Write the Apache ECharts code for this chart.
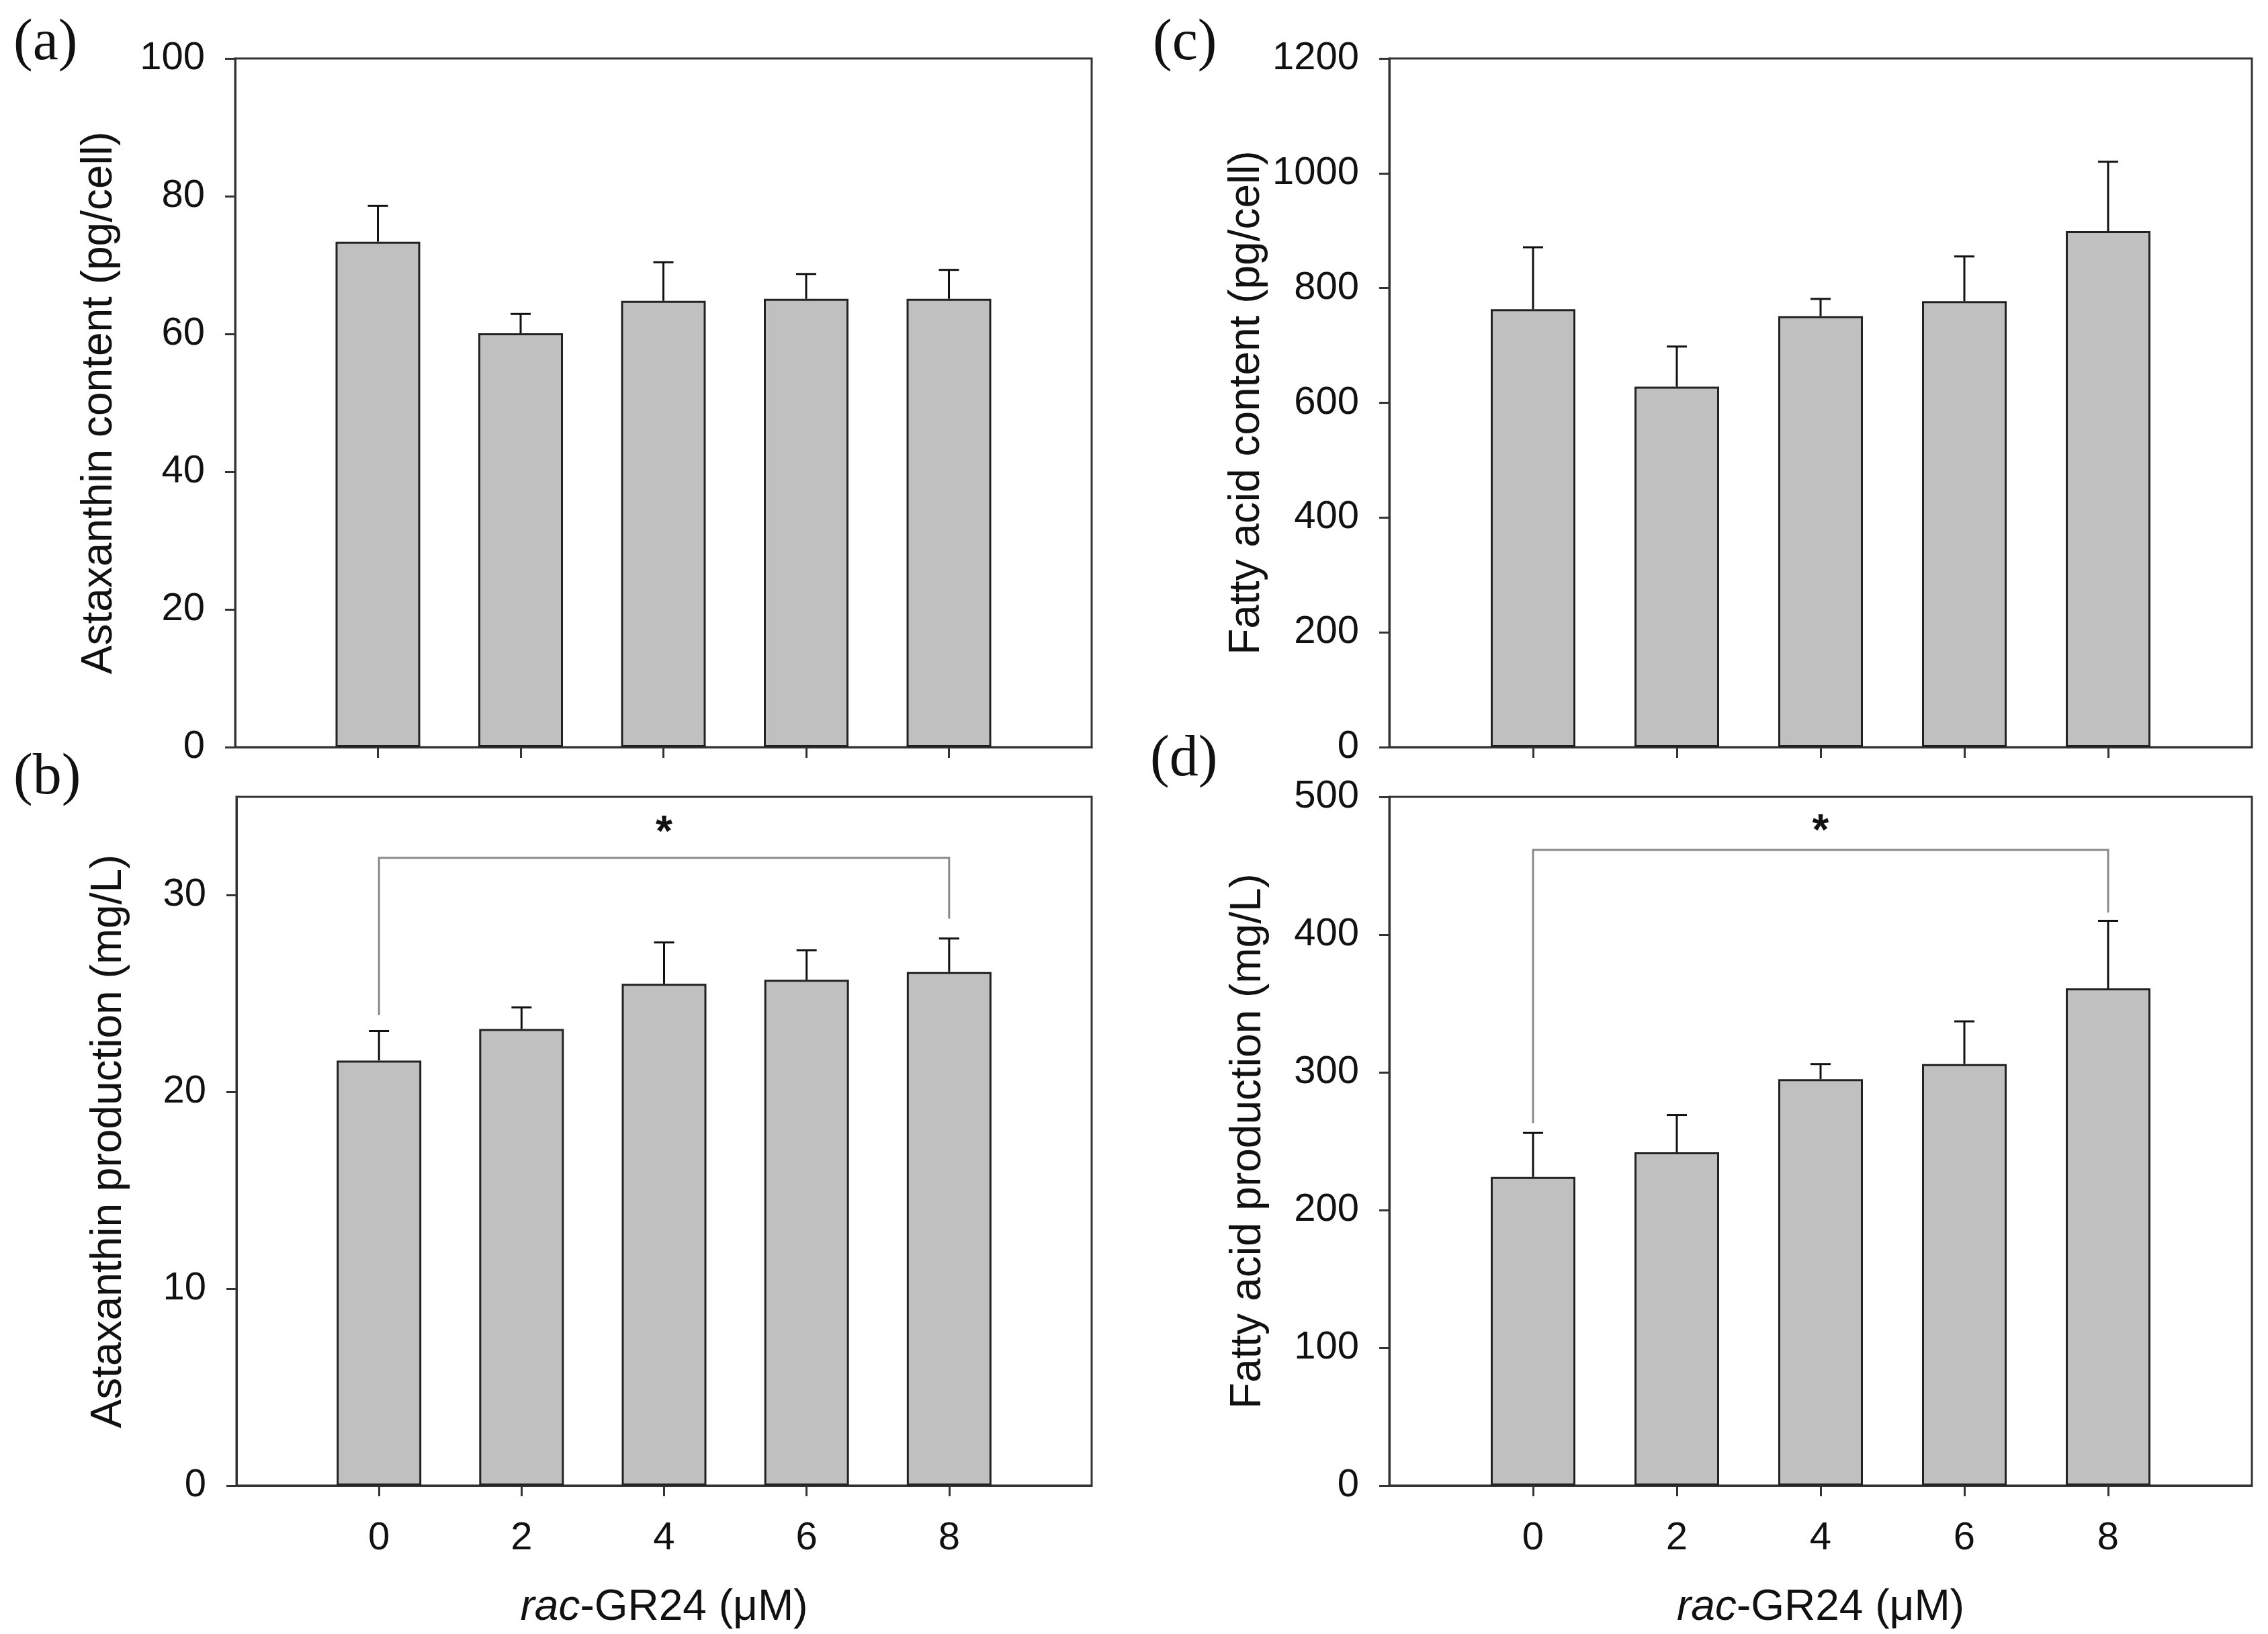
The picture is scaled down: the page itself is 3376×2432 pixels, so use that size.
<!DOCTYPE html>
<html>
<head>
<meta charset="utf-8">
<script src="https://cdn.jsdelivr.net/npm/echarts@6/dist/echarts.min.js"></script>
<style>
html,body{margin:0;padding:0;background:#fff;}
#c{width:3376px;height:2432px;}
</style>
</head>
<body>
<div id="c"></div>
<script>
// ---- data ----
const doses = [0, 2, 4, 6, 8];
const doseTicks = [0, 2, 4, 6, 8];

const astaContent = [73.4, 60.1, 64.8, 65.1, 65.1];
const astaContentErr = [5.2, 2.8, 5.6, 3.6, 4.2];

const astaProd = [21.6, 23.2, 25.5, 25.7, 26.1];
const astaProdErr = [1.5, 1.1, 2.1, 1.5, 1.7];

const fatContent = [763, 628, 751, 777, 899];
const fatContentErr = [108, 70, 30, 78, 121];

const fatProd = [224, 242, 295, 306, 361];
const fatProdErr = [32, 27, 11, 31, 49];

// significance brackets: [xFrom, xTo, yTop, yLeftEnd, yRightEnd]
const bracketB = [0, 8, 31.9, 23.9, 28.8];
const bracketD = [0, 8, 461.5, 263, 416];
// stars: [x, y]
const starB = [4, 33.1];
const starD = [4, 474];

const ticksA = [0, 20, 40, 60, 80, 100];
const ticksB = [0, 10, 20, 30];
const ticksC = [0, 200, 400, 600, 800, 1000, 1200];
const ticksD = [0, 100, 200, 300, 400, 500];

// ---- styles ----
const SANS = '"Liberation Sans", Arial, sans-serif';
const NARROW = '"Liberation Sans Narrow", "Arial Narrow", "Liberation Sans", Arial, sans-serif';
const SERIF = '"Liberation Serif", "Times New Roman", serif';
const AXIS_COLOR = '#333';
const TEXT_COLOR = '#111';

const grids = [
  {left: 350, top: 87, width: 1275, height: 1025},
  {left: 352, top: 1186, width: 1273, height: 1025},
  {left: 2068, top: 87, width: 1284, height: 1025},
  {left: 2068, top: 1186, width: 1284, height: 1025}
].map(g => Object.assign(g, {show: true, borderColor: AXIS_COLOR, borderWidth: 3, backgroundColor: 'transparent'}));

function xAxis(gi, showLabels) {
  const ax = {
    type: 'value', gridIndex: gi, min: -2, max: 10, interval: 2,
    axisLine: {show: true, onZero: false, lineStyle: {color: AXIS_COLOR, width: 3}},
    axisTick: {show: true, inside: false, length: 16, lineStyle: {color: AXIS_COLOR, width: 3}, customValues: doseTicks},
    axisLabel: {show: showLabels, customValues: doseTicks, margin: 50, fontSize: 58, fontFamily: NARROW, color: TEXT_COLOR},
    splitLine: {show: false}
  };
  if (showLabels) {
    ax.name = '{i|rac}-GR24 (μM)';
    ax.nameLocation = 'middle';
    ax.nameGap = 150;
    ax.nameTextStyle = {fontSize: 64, fontFamily: SANS, color: TEXT_COLOR,
      rich: {i: {fontStyle: 'italic', fontSize: 64, fontFamily: SANS, color: TEXT_COLOR}}};
  }
  return ax;
}
function yAxis(gi, max, interval, ticks, name, gap) {
  return {
    type: 'value', gridIndex: gi, min: 0, max: max, interval: interval,
    name: name, nameLocation: 'middle', nameGap: gap, nameRotate: 90,
    nameTextStyle: {fontSize: 64, fontFamily: SANS, color: TEXT_COLOR},
    axisLine: {show: true, onZero: false, lineStyle: {color: AXIS_COLOR, width: 3}},
    axisTick: {show: true, inside: false, length: 15, lineStyle: {color: AXIS_COLOR, width: 3}, customValues: ticks},
    axisLabel: {customValues: ticks, margin: 45, fontSize: 58, fontFamily: NARROW, color: TEXT_COLOR,
      formatter: v => String(v)},
    splitLine: {show: false}
  };
}

function barSeries(i, vals) {
  return {
    type: 'bar', xAxisIndex: i, yAxisIndex: i, barWidth: 126,
    data: doses.map((d, k) => [d, vals[k]]),
    itemStyle: {color: '#c0c0c0', borderColor: '#222', borderWidth: 3},
    z: 2, silent: true
  };
}
function errSeries(i, vals, errs) {
  return {
    type: 'custom', xAxisIndex: i, yAxisIndex: i, z: 3, silent: true,
    data: doses.map((d, k) => [d, vals[k], errs[k]]),
    encode: {x: 0, y: 1},
    renderItem: function (params, api) {
      const x = api.value(0), y = api.value(1), e = api.value(2);
      const p0 = api.coord([x, y]);
      const p1 = api.coord([x, y + e]);
      const st = {stroke: '#111', lineWidth: 3};
      return {type: 'group', children: [
        {type: 'line', shape: {x1: p0[0], y1: p0[1], x2: p1[0], y2: p1[1]}, style: st},
        {type: 'line', shape: {x1: p1[0] - 15, y1: p1[1], x2: p1[0] + 15, y2: p1[1]}, style: st}
      ]};
    }
  };
}
function bracketSeries(i, br, star) {
  return [{
    type: 'custom', xAxisIndex: i, yAxisIndex: i, z: 4, silent: true,
    data: [br],
    encode: {x: [0, 1], y: [2, 3, 4]},
    renderItem: function (params, api) {
      const x1 = api.value(0), x2 = api.value(1), yt = api.value(2), yl = api.value(3), yr = api.value(4);
      const pts = [api.coord([x1, yl]), api.coord([x1, yt]), api.coord([x2, yt]), api.coord([x2, yr])];
      return {type: 'polyline', shape: {points: pts}, style: {stroke: '#8a8a8a', lineWidth: 3, fill: null}};
    }
  }, {
    type: 'custom', xAxisIndex: i, yAxisIndex: i, z: 4, silent: true,
    data: [star],
    encode: {x: 0, y: 1},
    renderItem: function (params, api) {
      const p = api.coord([api.value(0), api.value(1)]);
      return {type: 'text', x: p[0], y: p[1],
        style: {text: '*', fill: '#111', font: 'bold 64px ' + SANS, align: 'center', verticalAlign: 'middle'}};
    }
  }];
}

const panelLabel = (t, x, y) => ({type: 'text', left: x, top: y,
  style: {text: t, fill: '#111', font: '86px ' + SERIF}});

const option = {
  animation: false,
  backgroundColor: '#fff',
  grid: grids,
  xAxis: [xAxis(0, false), xAxis(1, true), xAxis(2, false), xAxis(3, true)],
  yAxis: [
    yAxis(0, 100, 20, ticksA, 'Astaxanthin content (pg/cell)', 170),
    yAxis(1, 35, 10, ticksB, 'Astaxanthin production (mg/L)', 158),
    yAxis(2, 1200, 200, ticksC, 'Fatty acid content (pg/cell)', 180),
    yAxis(3, 500, 100, ticksD, 'Fatty acid production (mg/L)', 178)
  ],
  series: [
    barSeries(0, astaContent), errSeries(0, astaContent, astaContentErr),
    barSeries(1, astaProd), errSeries(1, astaProd, astaProdErr),
    barSeries(2, fatContent), errSeries(2, fatContent, fatContentErr),
    barSeries(3, fatProd), errSeries(3, fatProd, fatProdErr)
  ].concat(bracketSeries(1, bracketB, starB), bracketSeries(3, bracketD, starD)),
  graphic: [
    panelLabel('(a)', 20, 22),
    panelLabel('(b)', 20, 1115),
    panelLabel('(c)', 1716, 22),
    panelLabel('(d)', 1712, 1088)
  ]
};

const chart = echarts.init(document.getElementById('c'), null, {renderer: 'canvas'});
chart.setOption(option);
</script>
</body>
</html>
